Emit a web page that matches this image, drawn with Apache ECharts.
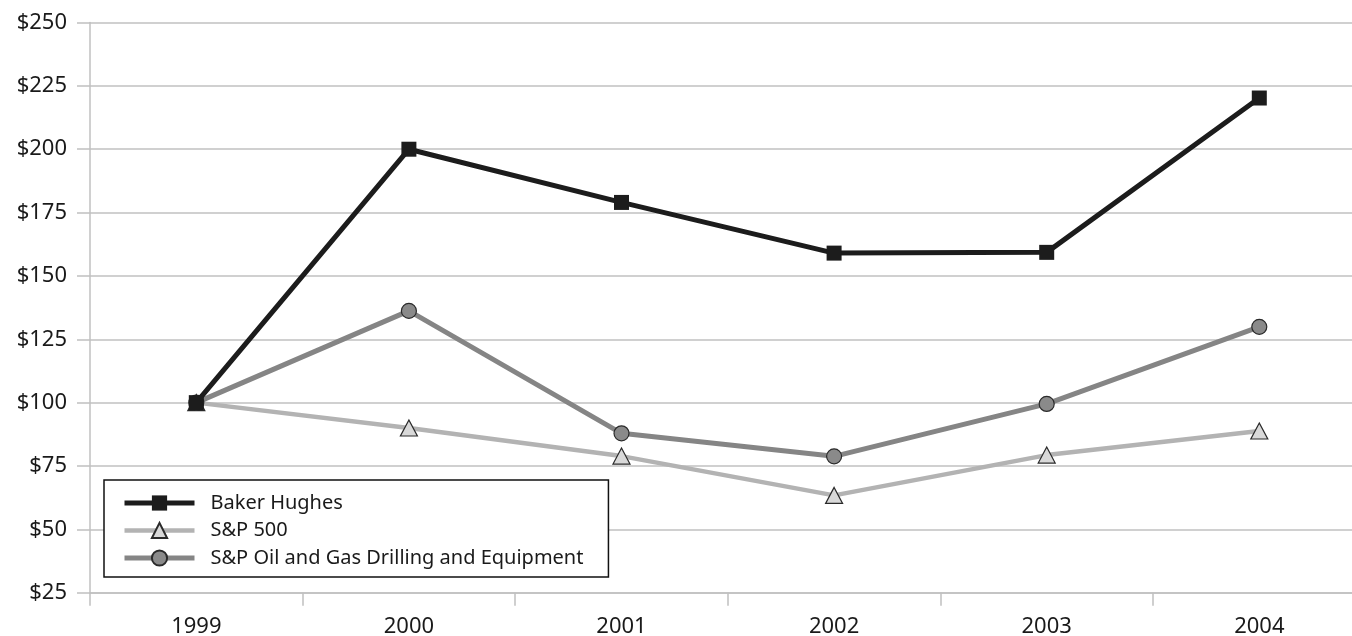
<!DOCTYPE html>
<html>
<head>
<meta charset="utf-8">
<script src="https://cdn.jsdelivr.net/npm/echarts@6/dist/echarts.min.js"></script>
<style>
  html, body { margin: 0; padding: 0; background: #fff; }
  #chart { width: 1352px; height: 636px; }
</style>
</head>
<body>
<div id="chart"></div>
<script>
// values
const years = ["1999", "2000", "2001", "2002", "2003", "2004"];
const bakerHughes = [100, 200, 179, 159, 159.3, 220.2];
const sp500 = [100, 90, 78.9, 63.4, 79.3, 88.8];
const spOilGas = [100, 136.2, 87.9, 78.8, 99.5, 129.9];

const font = "Noto Sans";
const gridColor = "#c0c0c0";
const textColor = "#1a1a1a";

const chart = echarts.init(document.getElementById("chart"));

chart.setOption({
  animation: false,
  grid: {
    left: 90,
    top: 22.5,
    // the plot runs a little past the right edge, as in the reference
    width: 1275.6,
    height: 570.2,
    outerBoundsMode: "none",
  },
  xAxis: {
    type: "category",
    data: years,
    boundaryGap: true,
    axisLine: { lineStyle: { color: gridColor, width: 1.5 } },
    axisTick: {
      show: true,
      length: 13,
      interval: 0,
      lineStyle: { color: gridColor, width: 1.5 },
    },
    axisLabel: {
      margin: 23,
      fontFamily: font,
      fontSize: 22,
      color: textColor,
    },
  },
  yAxis: {
    type: "value",
    min: 25,
    max: 250,
    interval: 25,
    axisLine: { show: true, lineStyle: { color: gridColor, width: 1.5 } },
    axisTick: {
      show: true,
      length: 13,
      lineStyle: { color: gridColor, width: 1.5 },
    },
    splitLine: { lineStyle: { color: gridColor, width: 1.5 } },
    axisLabel: {
      margin: 23,
      fontFamily: font,
      fontSize: 22,
      color: textColor,
      formatter: (v) => "$" + v,
    },
  },
  legend: {
    orient: "vertical",
    left: 104,
    top: 480,
    padding: [13, 25, 9, 18],
    itemWidth: 70,
    itemHeight: 19,
    itemGap: 7.5,
    backgroundColor: "#fff",
    borderColor: "#111",
    borderWidth: 1.5,
    textStyle: {
      fontFamily: font,
      fontSize: 20,
      color: textColor,
      padding: [0, 0, 0, 11],
    },
    data: [
      { name: "Baker Hughes", lineStyle: { width: 5 } },
      { name: "S&P 500", lineStyle: { width: 4.5 } },
      { name: "S&P Oil and Gas Drilling and Equipment", lineStyle: { width: 5 } },
    ],
  },
  series: [
    {
      name: "S&P 500",
      type: "line",
      data: sp500,
      symbol: "triangle",
      symbolSize: [17, 16],
      z: 2,
      lineStyle: { color: "#b3b3b3", width: 4.5 },
      itemStyle: { color: "#d9d9d9", borderColor: "#2a2a2a", borderWidth: 1.2 },
    },
    {
      name: "S&P Oil and Gas Drilling and Equipment",
      type: "line",
      data: spOilGas,
      symbol: "circle",
      symbolSize: 15,
      z: 3,
      lineStyle: { color: "#858585", width: 5 },
      itemStyle: { color: "#8a8a8a", borderColor: "#2a2a2a", borderWidth: 1.2 },
    },
    {
      name: "Baker Hughes",
      type: "line",
      data: bakerHughes,
      symbol: "rect",
      symbolSize: 15,
      z: 4,
      lineStyle: { color: "#1c1c1c", width: 5 },
      itemStyle: { color: "#1c1c1c", borderColor: "#1c1c1c", borderWidth: 0 },
    },
  ],
});
</script>
</body>
</html>
